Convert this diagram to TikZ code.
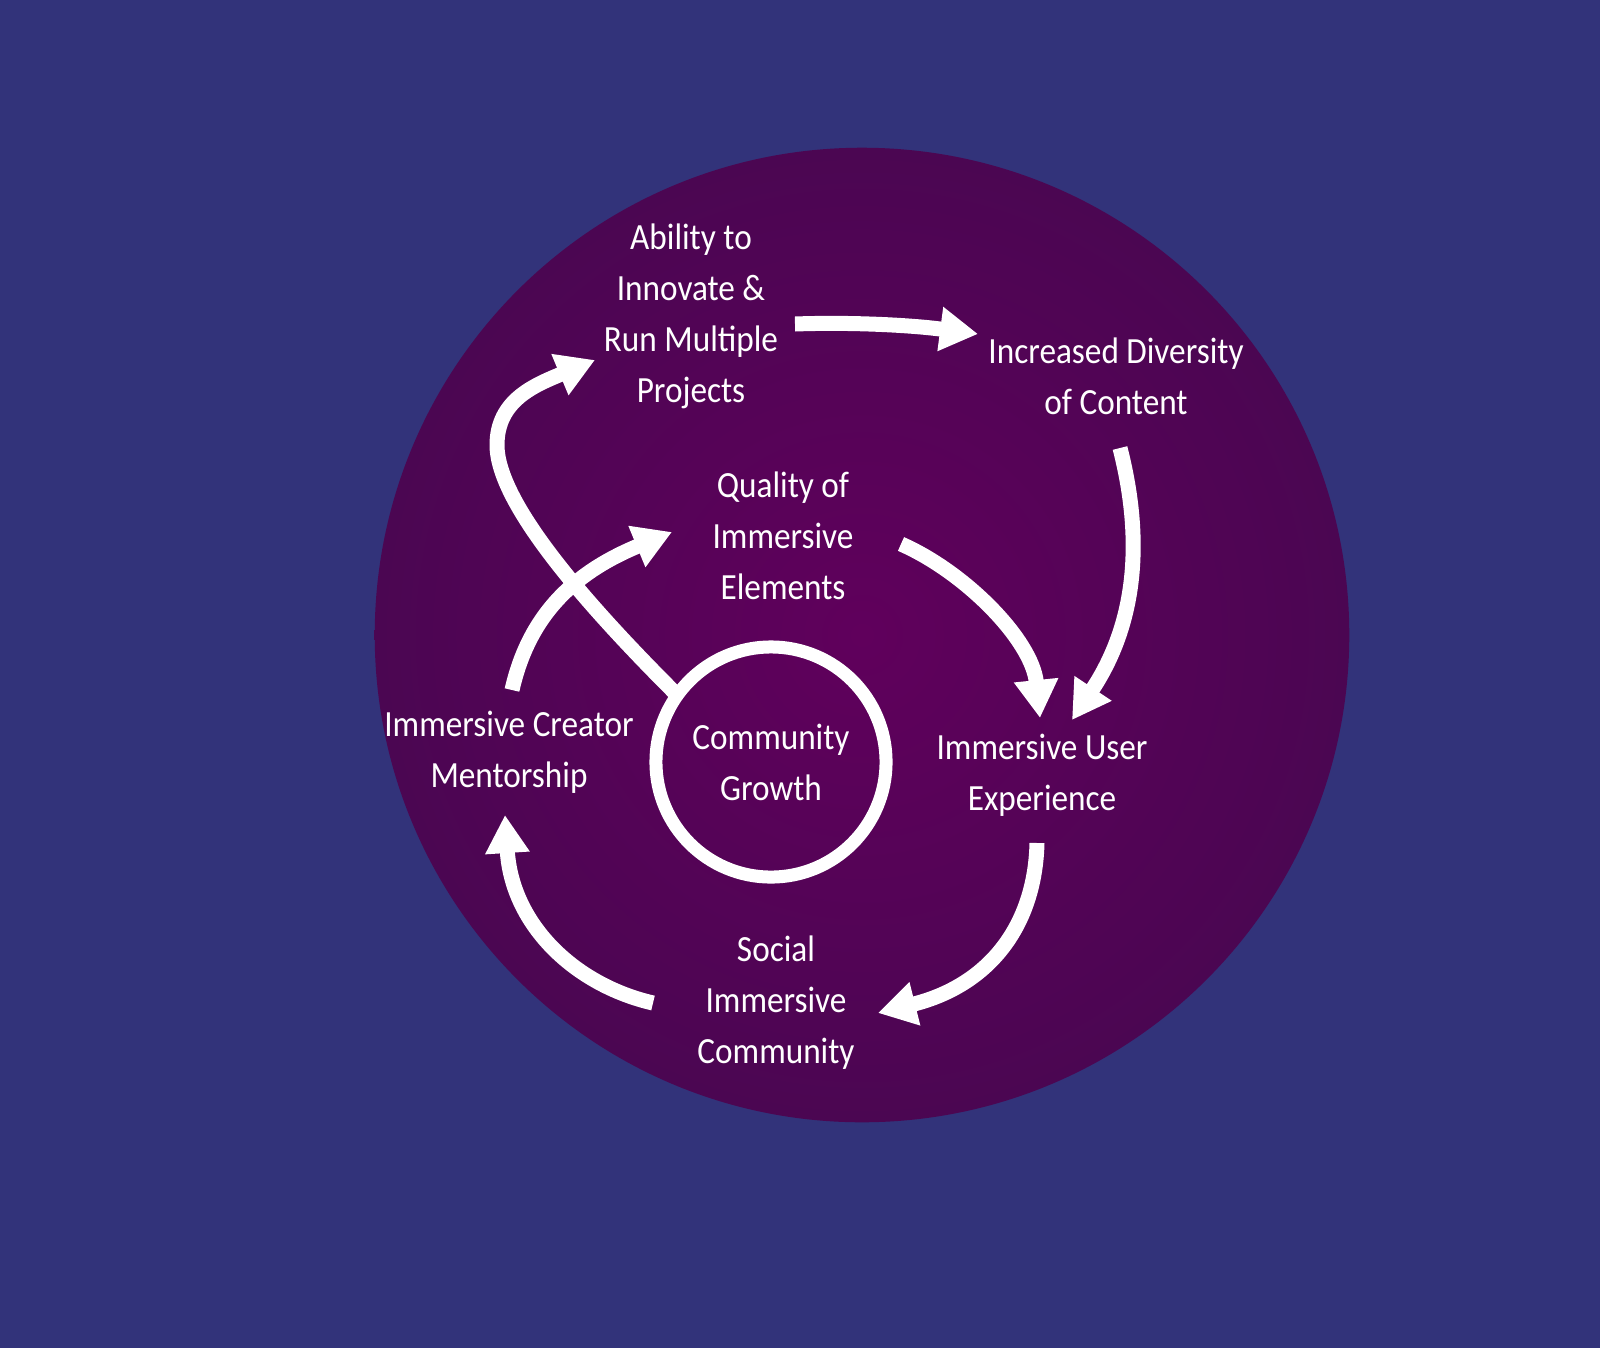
\documentclass[tikz,border=0pt]{standalone}
\usepackage{fontspec}
\setmainfont{Carlito}[FakeStretch=0.9]
\usetikzlibrary{arrows.meta}
\definecolor{bgblue}{RGB}{50,51,122}
\definecolor{glowin}{RGB}{96,0,92}
\definecolor{glowout}{RGB}{54,12,72}
\pgfdeclareradialshading{glow}{\pgfpointorigin}{color(0bp)=(glowin); color(50bp)=(glowout)}

\begin{document}
\begin{tikzpicture}[x=0.01cm, y=-0.01cm,
    lbl/.style={text=white, align=center, inner sep=0pt,
      font=\fontsize{10.5}{14.5}\selectfont},
    flow/.style={white, line width=0.15cm,
      -{Triangle[length=0.38cm, width=0.42cm]}}]
    \useasboundingbox (0, 0) rectangle (1600, 1348);
    \fill[bgblue] (0, 0) rectangle (1600, 1348);
    \shade[shading=glow] (862, 635) circle[radius=4.87cm];

    \node[lbl] (ability) at (691, 316) {Ability to\\Innovate \&\\Run Multiple\\Projects};
    \node[lbl] (divers) at (1116, 376) {Increased Diversity\\of Content};
    \node[lbl] (quality) at (783, 536) {Quality of\\Immersive\\Elements};
    \node[lbl] (mentor) at (509, 752) {Immersive Creator\\Mentorship};
    \node[lbl] (user) at (1042, 775) {Immersive User\\Experience};
    \node[lbl] (social) at (776, 1003) {Social\\Immersive\\Community};
    \node[lbl, circle, draw=white, line width=0.13cm, minimum size=2.30cm] (growth) at (771, 762) {Community\\Growth};

    \draw[flow] ([shift={(104,8)}]ability.center) .. controls +(55,-2) and +(-68,-9) .. ([shift={(-138,-42)}]divers.center);
    \draw[flow] ([shift={(4,72)}]divers.center) .. controls +(28,110) and +(56,-84) .. ([shift={(30,-55)}]user.center);
    \draw[flow] ([shift={(118,8)}]quality.center) .. controls +(64,28) and +(-8,-78) .. ([shift={(-2,-57)}]user.center);
    \draw[flow] ([shift={(-5,68)}]user.center) .. controls +(-2,82) and +(112,-28) .. ([shift={(102,10)}]social.center);
    \draw[flow] ([shift={(-123,0)}]social.center) .. controls +(-78,-18) and +(7,110) .. ([shift={(-4,63)}]mentor.center);
    \draw[flow] ([shift={(3,-62)}]mentor.center) .. controls +(18,-80) and +(-92,38) .. ([shift={(-111,-4)}]quality.center);
    \draw[flow, shorten <=-0.05cm] (growth.144) .. controls +(-80,-80) and +(0,60) .. (497, 445)
      .. controls +(0,-45) and +(-60,25) .. ([shift={(-96,44)}]ability.center);
\end{tikzpicture}
\end{document}
